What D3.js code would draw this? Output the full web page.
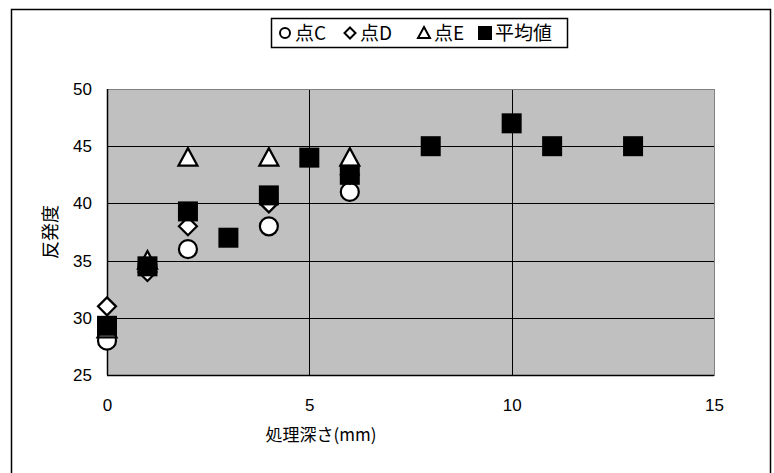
<!DOCTYPE html>
<html><head><meta charset="utf-8">
<script src="https://cdn.jsdelivr.net/npm/d3@7"></script>
<style>body{margin:0;background:#fff}svg{display:block}</style>
</head><body>
<script>
const xC = [0, 2, 4, 6, 1];
const yC = [28, 36, 38, 41, 34.5];
const xD = [0, 1, 2, 4, 6];
const yD = [31, 34, 38, 40, 42.5];
const xE = [0, 1, 2, 4, 6];
const yE = [29, 35, 44, 44, 44];
const xAvg = [0, 1, 2, 3, 4, 5, 6, 8, 10, 11, 13];
const yAvg = [29.3, 34.5, 39.3, 37, 40.7, 44, 42.5, 45, 47, 45, 45];
const xTicks = [0, 5, 10, 15];
const yTicks = [25, 30, 35, 40, 45, 50];
const legendLabels = ["点C", "点D", "点E", "平均値"];
const xTitle = "処理深さ(mm)";
const yTitle = "反発度";

const W = 774, H = 473;
const svg = d3.select("body").append("svg").attr("width", W).attr("height", H);
svg.append("rect").attr("x", 11.5).attr("y", 9.5).attr("width", 759).attr("height", 470)
  .attr("fill", "#fff").attr("stroke", "#000").attr("stroke-width", 1.5);

const x = d3.scaleLinear().domain([0, 15]).range([107, 714]);
const y = d3.scaleLinear().domain([25, 50]).range([375, 89]);

svg.append("rect").attr("x", x(0)).attr("y", y(50)).attr("width", x(15) - x(0)).attr("height", y(25) - y(50))
  .attr("fill", "#c0c0c0");

const g = svg.append("g");
g.selectAll(".hg").data(yTicks).join("line")
  .attr("x1", x(0)).attr("x2", x(15)).attr("y1", d => Math.round(y(d)) + 0.5).attr("y2", d => Math.round(y(d)) + 0.5)
  .attr("stroke", "#000").attr("stroke-width", 1);
g.selectAll(".vg").data(xTicks.filter(d => d > 0 && d < 15)).join("line")
  .attr("y1", y(50)).attr("y2", y(25)).attr("x1", d => Math.round(x(d)) + 0.5).attr("x2", d => Math.round(x(d)) + 0.5)
  .attr("stroke", "#000").attr("stroke-width", 1);
svg.append("rect").attr("x", x(0) + 0.5).attr("y", y(50) + 0.5).attr("width", x(15) - x(0)).attr("height", y(25) - y(50))
  .attr("fill", "none").attr("stroke", "#808080").attr("stroke-width", 1);
svg.append("line").attr("x1", x(0)+0.5).attr("x2", x(0)+0.5).attr("y1", y(50)).attr("y2", y(25)).attr("stroke", "#000").attr("stroke-width", 1.5);
svg.append("line").attr("x1", x(0)).attr("x2", x(15)).attr("y1", y(25)+0.5).attr("y2", y(25)+0.5).attr("stroke", "#000").attr("stroke-width", 1.5);

const numFont = "'Liberation Sans', Arial, sans-serif";
const cjkFont = "'Noto Sans CJK JP', sans-serif";

const yAxis = d3.axisLeft(y).tickValues(yTicks).tickSize(0).tickPadding(15);
const ya = svg.append("g").attr("transform", `translate(${x(0)},0)`).call(yAxis)
  .attr("font-family", numFont).attr("font-size", 17);
ya.select(".domain").remove();
ya.selectAll("text").attr("fill", "#000");

const xAxis = d3.axisBottom(x).tickValues(xTicks).tickSize(0).tickPadding(0).tickFormat(d3.format("d"));
const xa = svg.append("g").attr("transform", `translate(0,${y(25)})`).call(xAxis)
  .attr("font-family", numFont).attr("font-size", 17);
xa.select(".domain").remove();
xa.selectAll("text").attr("fill", "#000").attr("dy", null).attr("y", 36);

svg.append("text").attr("x", 321).attr("y", 441).attr("text-anchor", "middle")
  .attr("font-family", cjkFont).attr("font-size", 17).text(xTitle);
svg.append("text").attr("transform", "translate(57,232) rotate(-90)").attr("text-anchor", "middle")
  .attr("font-family", cjkFont).attr("font-size", 18).text(yTitle);

const sym = {
  circle: (s, r) => s.append("circle").attr("r", r),
  diamond: (s, r) => s.append("path").attr("d", `M0,${-r}L${r},0L0,${r}L${-r},0Z`),
  triangle: (s, r) => s.append("path").attr("d", `M0,${-r}L${r},${r*0.85}L${-r},${r*0.85}Z`),
  square: (s, r) => s.append("rect").attr("x", -r).attr("y", -r).attr("width", 2*r).attr("height", 2*r)
};
function series(xs, ys, kind, r, fill) {
  const grp = svg.append("g");
  xs.forEach((xv, i) => {
    const m = grp.append("g").attr("transform", `translate(${x(xv)},${y(ys[i])})`);
    sym[kind](m, r).attr("fill", fill).attr("stroke", "#000").attr("stroke-width", kind === "square" ? 0 : 2.2);
  });
}
series(xC, yC, "circle", 9, "#fff");
series(xD, yD, "diamond", 9, "#fff");
series(xE, yE, "triangle", 9.5, "#fff");
series(xAvg, yAvg, "square", 10, "#000");

const lg = svg.append("g");
lg.append("rect").attr("x", 271.5).attr("y", 18.5).attr("width", 296).attr("height", 29)
  .attr("fill", "#fff").attr("stroke", "#000").attr("stroke-width", 1.5);
const kinds = ["circle", "diamond", "triangle", "square"];
const fills = ["#fff", "#fff", "#fff", "#000"];
const lx = [285, 350, 424, 485];
const lr = [5, 5.5, 6, 7];
kinds.forEach((k, i) => {
  const m = lg.append("g").attr("transform", `translate(${lx[i]},33)`);
  sym[k](m, lr[i]).attr("fill", fills[i]).attr("stroke", "#000").attr("stroke-width", k === "square" ? 0 : 2);
  lg.append("text").attr("x", lx[i] + 10).attr("y", 40).attr("font-family", cjkFont)
    .attr("font-size", 19).text(legendLabels[i]);
});
</script>
</body></html>
